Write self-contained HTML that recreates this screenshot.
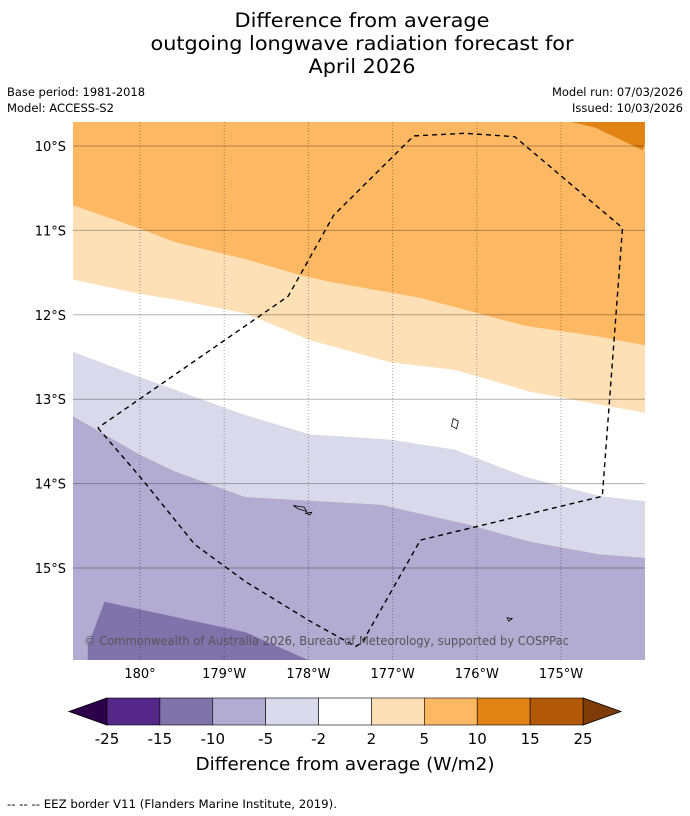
<!DOCTYPE html>
<html><head><meta charset="utf-8"><style>
body{margin:0;background:#fff;}
svg{display:block;font-family:"DejaVu Sans","Liberation Sans",sans-serif;}
</style></head><body>
<svg id="chart" width="690" height="816" viewBox="0 0 690 816">
<g font-size="19.5" text-anchor="middle" fill="#000">
<text x="362" y="27" textLength="255" lengthAdjust="spacingAndGlyphs">Difference from average</text>
<text x="362" y="50" textLength="423" lengthAdjust="spacingAndGlyphs">outgoing longwave radiation forecast for</text>
<text x="362" y="73" textLength="107" lengthAdjust="spacingAndGlyphs">April 2026</text>
</g>
<g font-size="11.5" fill="#000">
<text x="7" y="96" textLength="138" lengthAdjust="spacingAndGlyphs">Base period: 1981-2018</text>
<text x="7" y="112" textLength="107" lengthAdjust="spacingAndGlyphs">Model: ACCESS-S2</text>
<text x="683" y="96" text-anchor="end" textLength="131" lengthAdjust="spacingAndGlyphs">Model run: 07/03/2026</text>
<text x="683" y="112" text-anchor="end" textLength="111" lengthAdjust="spacingAndGlyphs">Issued: 10/03/2026</text>
</g>
<defs><clipPath id="mapclip"><rect x="73" y="122" width="572" height="538"/></clipPath></defs>
<g id="map" clip-path="url(#mapclip)"></g>
<g id="axes"></g>
<text x="84" y="645" font-size="12" fill="#555" textLength="485" lengthAdjust="spacingAndGlyphs">© Commonwealth of Australia 2026, Bureau of Meteorology, supported by COSPPac</text>
<g id="cbar"></g>
<text x="345" y="770" font-size="17.5" text-anchor="middle" textLength="299" lengthAdjust="spacingAndGlyphs">Difference from average (W/m2)</text>
<text x="7" y="808" font-size="11.5" textLength="330" lengthAdjust="spacingAndGlyphs">--  --  -- EEZ border V11 (Flanders Marine Institute, 2019).</text>
</svg>
<script>
// lon expressed as degrees east of 180 (1 = 179°W); lat in degrees (negative south)
const latTicks = [-10,-11,-12,-13,-14,-15];
const latLabels = ["10°S","11°S","12°S","13°S","14°S","15°S"];
const lonTicks = [0,1,2,3,4,5];
const lonLabels = ["180°","179°W","178°W","177°W","176°W","175°W"];
const levels = [-25,-15,-10,-5,-2,2,5,10,15,25];
const levelColors = ["#542788","#8073ac","#b2abd2","#d8daeb","#ffffff","#fee0b6","#fdb863","#e08214","#b35806"];
const lowColor = "#2d004b", highColor = "#7f3b08";
// contour boundaries [lon, lat]
const edge10to15 = [[5.09,-9.71],[5.40,-9.78],[5.97,-10.05]];
const edge5to10 = [[-0.80,-10.70],[0,-10.98],[0.42,-11.14],[1.25,-11.34],[1.90,-11.53],[2.26,-11.61],[3.33,-11.80],[4.57,-12.13],[5.46,-12.26],[5.99,-12.36]];
const edge2to5 = [[-0.80,-11.58],[0,-11.75],[0.48,-11.83],[1.25,-11.98],[2.02,-12.30],[2.97,-12.56],[3.74,-12.65],[4.63,-12.91],[5.99,-13.16]];
const edgeM2 = [[-0.80,-12.44],[0,-12.74],[1.25,-13.19],[2.02,-13.42],[2.97,-13.48],[3.74,-13.60],[4.57,-13.92],[5.46,-14.15],[5.99,-14.21]];
const edgeM5 = [[-0.80,-13.20],[0,-13.66],[0.42,-13.86],[1.25,-14.16],[2.85,-14.25],[3.92,-14.49],[4.63,-14.69],[5.46,-14.84],[5.99,-14.88]];
const regionM10 = [[-0.62,-15.92],[-0.42,-15.40],[0.42,-15.58],[1.25,-15.76],[2.02,-16.10],[-0.62,-16.10]];
const eez = [[-0.50,-13.34],[0,-13.92],[0.65,-14.72],[1.25,-15.16],[2.02,-15.63],[2.56,-15.93],[2.64,-15.88],[3.33,-14.67],[5.49,-14.15],[5.73,-10.97],[4.45,-9.89],[3.86,-9.85],[3.25,-9.88],[2.30,-10.82],[1.76,-11.78],[-0.50,-13.34]];
const islands = [[[1.82,-14.26],[1.95,-14.28],[1.98,-14.33],[1.88,-14.30]],[[1.96,-14.35],[2.04,-14.34],[2.02,-14.37]],[[3.72,-13.23],[3.78,-13.26],[3.76,-13.35],[3.70,-13.32]],[[4.36,-15.59],[4.42,-15.60],[4.38,-15.63]]];

const X = lon => 140 + lon*84.2;
const Y = lat => 146 + (-10 - lat)*84.4;
const NS = "http://www.w3.org/2000/svg";
function mk(tag, attrs, parent){const e=document.createElementNS(NS,tag);for(const k in attrs)e.setAttribute(k,attrs[k]);parent.appendChild(e);return e;}
const pts = arr => arr.map(p=>X(p[0]).toFixed(1)+","+Y(p[1]).toFixed(1)).join(" ");
const map = document.getElementById("map");
const L=-0.9,R=6.1,T=-9.6,B=-16.2;
function band(upper, lower, color, name){
  const top = upper ? upper : [[L,T],[R,T]];
  const poly = top.slice();
  poly.push([R,top[top.length-1][1]]);
  const low = lower.slice().reverse();
  const all = [[L,top[0][1]]].concat(top,[[R,top[top.length-1][1]]],[[R,lower[lower.length-1][1]]],low,[[L,lower[0][1]]]);
  const e = mk("polygon",{points:pts(all),fill:color},map);
  
  
}
// background top band (5-10)
const bg = mk("rect",{x:73,y:122,width:572,height:538,fill:levelColors[6]},map);


band(edge5to10, edge2to5, levelColors[5], 'band-2-to-5');
band(edge2to5, edgeM2, levelColors[4], 'band-minus2-to-2');
band(edgeM2, edgeM5, levelColors[3], 'band-minus5-to-minus2');
band(edgeM5, [[L,B],[R,B]], levelColors[2], 'band-minus10-to-minus5');
const r10 = mk("polygon",{points:pts(regionM10),fill:levelColors[1]},map);


const top15 = mk("polygon",{points:pts(edge10to15.concat([[R,T],[edge10to15[0][0],T]])),fill:levelColors[7]},map);


// gridlines
latTicks.forEach(v=>{const g=mk("line",{x1:73,x2:645,y1:Y(v),y2:Y(v),stroke:"#000","stroke-opacity":0.3,"stroke-width":1},map);

});
lonTicks.forEach(v=>{const g=mk("line",{x1:X(v),x2:X(v),y1:122,y2:660,stroke:"#000","stroke-opacity":0.35,"stroke-width":1,"stroke-dasharray":"1,2"},map);

});
islands.forEach(a=>{const g=mk("polygon",{points:pts(a),fill:"none",stroke:"#000","stroke-width":0.8},map);

});
const ez = mk("polyline",{points:pts(eez),fill:"none",stroke:"#000","stroke-width":1.4,"stroke-dasharray":"5,4"},map);


// axis labels
const axes = document.getElementById("axes");
latTicks.forEach((v,i)=>{const t=mk("text",{x:66,y:Y(v)+5,"font-size":13,"text-anchor":"end"},axes);t.textContent=latLabels[i];

});
lonTicks.forEach((v,i)=>{const t=mk("text",{x:X(v),y:678,"font-size":13,"text-anchor":"middle"},axes);t.textContent=lonLabels[i];

});
// colorbar
const cb = document.getElementById("cbar");
const cx0=107,cx1=583,cy0=698,cy1=725,n=levelColors.length;
const cw=(cx1-cx0)/n;
const lt = mk("polygon",{points:`${cx0},${cy0} ${cx0},${cy1} 69,${(cy0+cy1)/2}`,fill:lowColor,stroke:"#000","stroke-width":0.8},cb);


const rt = mk("polygon",{points:`${cx1},${cy0} ${cx1},${cy1} 621,${(cy0+cy1)/2}`,fill:highColor,stroke:"#000","stroke-width":0.8},cb);


levelColors.forEach((c,i)=>{const r=mk("rect",{x:cx0+i*cw,y:cy0,width:cw,height:cy1-cy0,fill:c,stroke:"#000","stroke-width":0.6},cb);

});
levels.forEach((v,i)=>{const t=mk("text",{x:cx0+i*cw,y:744,"font-size":15,"text-anchor":"middle"},cb);t.textContent=String(v);

});
</script>
</body></html>
